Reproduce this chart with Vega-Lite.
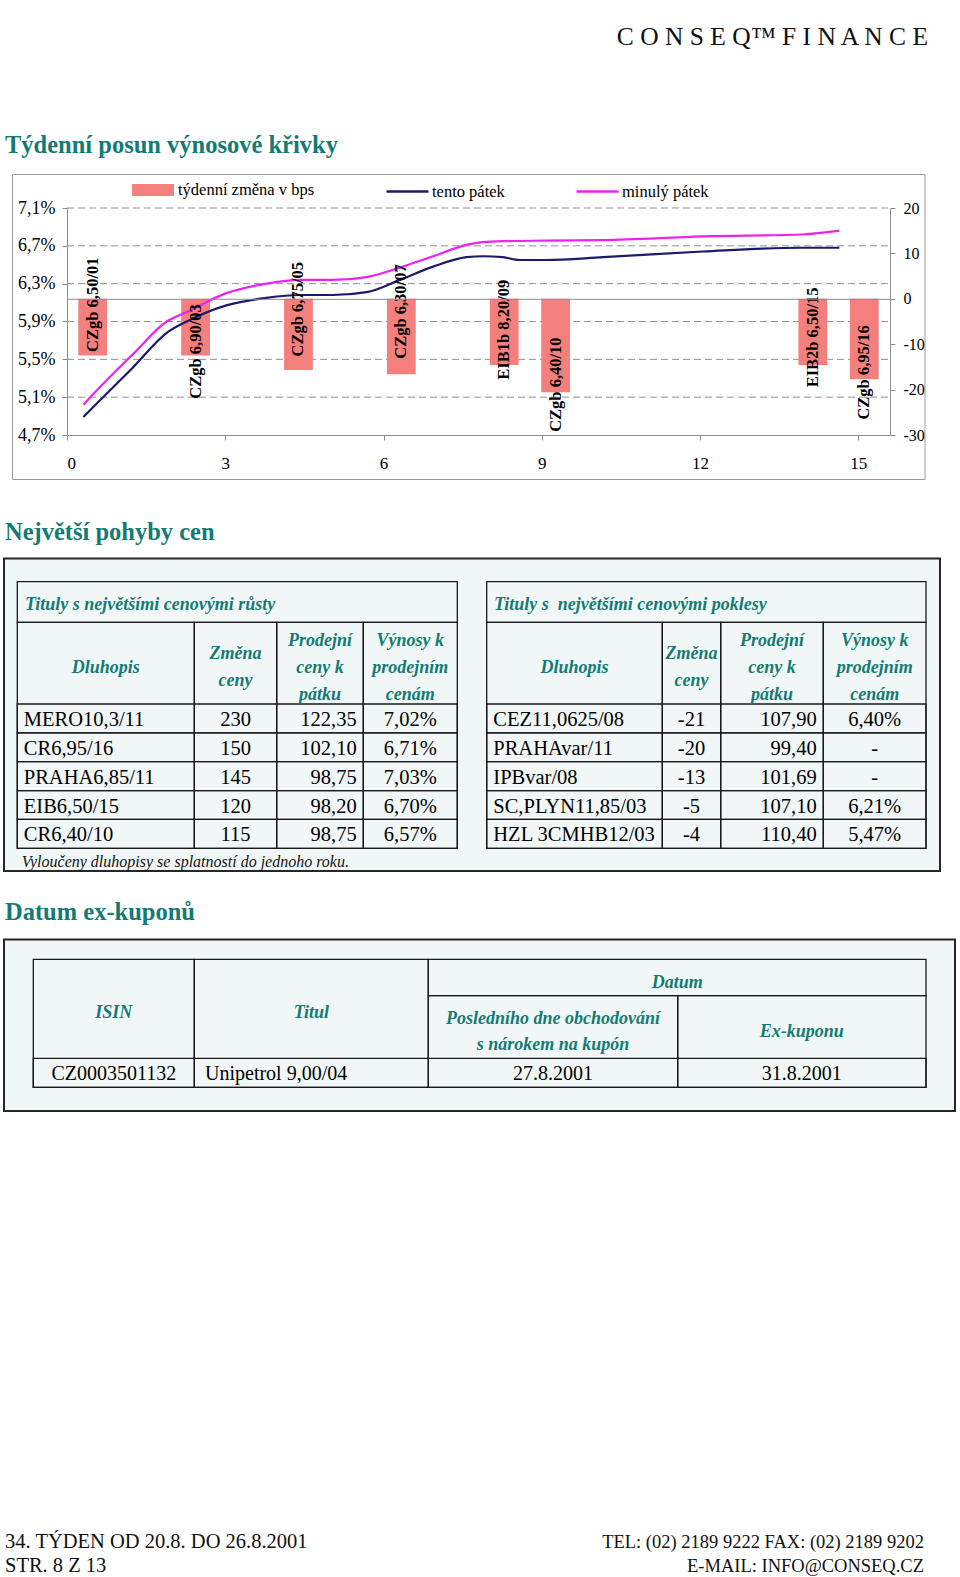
{
"$schema": "https://vega.github.io/schema/vega-lite/v6.json",
"width": 960, "height": 1577, "autosize": "none", "padding": 0, "background": "white",
"config": {
 "view": {"stroke": null},
 "font": "Liberation Serif",
 "locale": {"number": {"decimal": ",", "thousands": " ", "grouping": [3], "currency": ["", ""], "minus": "-"}},
 "axis": {"labelFont": "Liberation Serif", "labelColor": "#000", "domainColor": "#8c8c8c", "tickColor": "#8c8c8c", "zindex": 1},
 "legend": {"labelFont": "Liberation Serif", "labelFontSize": 16.5, "labelColor": "#000"},
 "style": {
  "bunka": {"font": "Liberation Serif", "fontSize": 20.5},
  "hlavicka": {"font": "Liberation Serif", "fontSize": 18, "fontStyle": "italic", "fontWeight": "bold"},
  "nadpis": {"font": "Liberation Serif", "fontSize": 24.5, "fontWeight": "bold"}
 }
},
"datasets": {
 "texty": [
  {"klic": "logo", "text": "C O N S E Q™  F I N A N C E"},
  {"klic": "nadpis1", "text": "Týdenní posun výnosové křivky"},
  {"klic": "nadpis2", "text": "Největší pohyby cen"},
  {"klic": "nadpis3", "text": "Datum ex-kuponů"},
  {"klic": "poznamka", "text": "Vyloučeny dluhopisy se splatností do jednoho roku."}
 ],
 "paticka": [
  {"strana": "vlevo", "radek": 1, "text": "34. TÝDEN OD 20.8. DO 26.8.2001"},
  {"strana": "vlevo", "radek": 2, "text": "STR. 8 Z 13"},
  {"strana": "vpravo", "radek": 1, "text": "TEL: (02) 2189 9222   FAX: (02) 2189 9202"},
  {"strana": "vpravo", "radek": 2, "text": "E-MAIL: INFO@CONSEQ.CZ"}
 ],
 "ramecky": [{"ramecek": "graf"}, {"ramecek": "pohyby"}, {"ramecek": "kupony"}],
 "mrizka": [{"vynos": 5.1}, {"vynos": 5.5}, {"vynos": 5.9}, {"vynos": 6.3}, {"vynos": 6.7}, {"vynos": 7.1}],
 "zmeny": [
  {"splatnost": "01", "titul": "CZgb 6,50/01", "bps": -12.5, "stitek": -1.3},
  {"splatnost": "03", "titul": "CZgb 6,90/03", "bps": -12.5, "stitek": -11.6},
  {"splatnost": "05", "titul": "CZgb 6,75/05", "bps": -15.7, "stitek": -2.3},
  {"splatnost": "07", "titul": "CZgb 6,30/07", "bps": -16.6, "stitek": -2.8},
  {"splatnost": "09", "titul": "EIB1b 8,20/09", "bps": -14.6, "stitek": -6.8},
  {"splatnost": "10", "titul": "CZgb 6,40/10", "bps": -20.6, "stitek": -18.9},
  {"splatnost": "15", "titul": "EIB2b 6,50/15", "bps": -14.6, "stitek": -8.5},
  {"splatnost": "16", "titul": "CZgb 6,95/16", "bps": -17.7, "stitek": -16.2}
 ],
 "krivka": [
  {"serie": "tento pátek", "roky": 0.31, "vynos": 4.89},
  {"serie": "tento pátek", "roky": 0.63, "vynos": 5.07},
  {"serie": "tento pátek", "roky": 1.26, "vynos": 5.42},
  {"serie": "tento pátek", "roky": 1.89, "vynos": 5.78},
  {"serie": "tento pátek", "roky": 2.27, "vynos": 5.9},
  {"serie": "tento pátek", "roky": 3.02, "vynos": 6.07},
  {"serie": "tento pátek", "roky": 3.78, "vynos": 6.15},
  {"serie": "tento pátek", "roky": 4.41, "vynos": 6.18},
  {"serie": "tento pátek", "roky": 5.04, "vynos": 6.18},
  {"serie": "tento pátek", "roky": 5.68, "vynos": 6.21},
  {"serie": "tento pátek", "roky": 6.31, "vynos": 6.34},
  {"serie": "tento pátek", "roky": 6.94, "vynos": 6.48},
  {"serie": "tento pátek", "roky": 7.57, "vynos": 6.58},
  {"serie": "tento pátek", "roky": 7.88, "vynos": 6.59},
  {"serie": "tento pátek", "roky": 8.26, "vynos": 6.58},
  {"serie": "tento pátek", "roky": 8.58, "vynos": 6.55},
  {"serie": "tento pátek", "roky": 9.08, "vynos": 6.55},
  {"serie": "tento pátek", "roky": 10.16, "vynos": 6.58},
  {"serie": "tento pátek", "roky": 12.05, "vynos": 6.64},
  {"serie": "tento pátek", "roky": 13.94, "vynos": 6.68},
  {"serie": "tento pátek", "roky": 14.64, "vynos": 6.68},
  {"serie": "minulý pátek", "roky": 0.31, "vynos": 5.02},
  {"serie": "minulý pátek", "roky": 0.63, "vynos": 5.21},
  {"serie": "minulý pátek", "roky": 1.26, "vynos": 5.56},
  {"serie": "minulý pátek", "roky": 1.89, "vynos": 5.9},
  {"serie": "minulý pátek", "roky": 2.27, "vynos": 6.0},
  {"serie": "minulý pátek", "roky": 3.02, "vynos": 6.2},
  {"serie": "minulý pátek", "roky": 3.78, "vynos": 6.3},
  {"serie": "minulý pátek", "roky": 4.41, "vynos": 6.34},
  {"serie": "minulý pátek", "roky": 5.04, "vynos": 6.34},
  {"serie": "minulý pátek", "roky": 5.68, "vynos": 6.37},
  {"serie": "minulý pátek", "roky": 6.31, "vynos": 6.47},
  {"serie": "minulý pátek", "roky": 6.94, "vynos": 6.59},
  {"serie": "minulý pátek", "roky": 7.57, "vynos": 6.71},
  {"serie": "minulý pátek", "roky": 7.88, "vynos": 6.74},
  {"serie": "minulý pátek", "roky": 8.26, "vynos": 6.75},
  {"serie": "minulý pátek", "roky": 9.08, "vynos": 6.755},
  {"serie": "minulý pátek", "roky": 10.16, "vynos": 6.76},
  {"serie": "minulý pátek", "roky": 12.05, "vynos": 6.8},
  {"serie": "minulý pátek", "roky": 13.94, "vynos": 6.82},
  {"serie": "minulý pátek", "roky": 14.64, "vynos": 6.86}
 ],
 "tabulky": [
  {"tabulka": "rusty", "titulek": "Tituly s největšími cenovými růsty"},
  {"tabulka": "poklesy", "titulek": "Tituly s\u00a0 největšími cenovými poklesy"}
 ],
 "hlavicky": [
  {"sloupec": "dluhopis", "nadpis": "Dluhopis"},
  {"sloupec": "zmena", "nadpis": "Změna\nceny"},
  {"sloupec": "cena", "nadpis": "Prodejní\nceny k\npátku"},
  {"sloupec": "vynos", "nadpis": "Výnosy k\nprodejním\ncenám"}
 ],
 "rusty": [
  {"poradi": 1, "dluhopis": "MERO10,3/11", "zmena": 230, "cena": 122.35, "vynos": 0.0702},
  {"poradi": 2, "dluhopis": "CR6,95/16", "zmena": 150, "cena": 102.10, "vynos": 0.0671},
  {"poradi": 3, "dluhopis": "PRAHA6,85/11", "zmena": 145, "cena": 98.75, "vynos": 0.0703},
  {"poradi": 4, "dluhopis": "EIB6,50/15", "zmena": 120, "cena": 98.20, "vynos": 0.0670},
  {"poradi": 5, "dluhopis": "CR6,40/10", "zmena": 115, "cena": 98.75, "vynos": 0.0657}
 ],
 "poklesy": [
  {"poradi": 1, "dluhopis": "CEZ11,0625/08", "zmena": -21, "cena": 107.90, "vynos": 0.0640},
  {"poradi": 2, "dluhopis": "PRAHAvar/11", "zmena": -20, "cena": 99.40, "vynos": null},
  {"poradi": 3, "dluhopis": "IPBvar/08", "zmena": -13, "cena": 101.69, "vynos": null},
  {"poradi": 4, "dluhopis": "SC,PLYN11,85/03", "zmena": -5, "cena": 107.10, "vynos": 0.0621},
  {"poradi": 5, "dluhopis": "HZL 3CMHB12/03", "zmena": -4, "cena": 110.40, "vynos": 0.0547}
 ],
 "kupony_hlavicka": [
  {"sloupec": "isin", "nadpis": "ISIN"},
  {"sloupec": "titul", "nadpis": "Titul"},
  {"sloupec": "datum", "nadpis": "Datum"},
  {"sloupec": "posledni", "nadpis": "Posledního dne obchodování\ns nárokem na kupón"},
  {"sloupec": "exkupon", "nadpis": "Ex-kuponu"}
 ],
 "kupony": [
  {"isin": "CZ0003501132", "titul": "Unipetrol 9,00/04", "posledni": "27.8.2001", "exkupon": "31.8.2001"}
 ]
},
"resolve": {"scale": {"x": "independent", "y": "independent", "fill": "independent", "stroke": "independent"}},
"layer": [
 {"data": {"name": "ramecky"}, "transform": [{"filter": "datum.ramecek === 'graf'"}],
  "mark": {"type": "rect", "fill": "#ffffff", "stroke": "#9a9a9a", "strokeWidth": 1},
  "encoding": {"x": {"field": "ramecek", "type": "nominal", "scale": {"type": "band", "range": [12.5, 925], "paddingInner": 0, "paddingOuter": 0}, "axis": null},
   "y": {"field": "ramecek", "type": "nominal", "scale": {"type": "band", "range": [174.5, 479.5], "paddingInner": 0, "paddingOuter": 0}, "axis": null}}},
 {"data": {"name": "ramecky"}, "transform": [{"filter": "datum.ramecek === 'pohyby'"}],
  "mark": {"type": "rect", "fill": "#f1f7f7", "stroke": "#262626", "strokeWidth": 2},
  "encoding": {"x": {"field": "ramecek", "type": "nominal", "scale": {"type": "band", "range": [4, 940], "paddingInner": 0, "paddingOuter": 0}, "axis": null},
   "y": {"field": "ramecek", "type": "nominal", "scale": {"type": "band", "range": [558.5, 871], "paddingInner": 0, "paddingOuter": 0}, "axis": null}}},
 {"data": {"name": "ramecky"}, "transform": [{"filter": "datum.ramecek === 'kupony'"}],
  "mark": {"type": "rect", "fill": "#f1f7f7", "stroke": "#262626", "strokeWidth": 2},
  "encoding": {"x": {"field": "ramecek", "type": "nominal", "scale": {"type": "band", "range": [4, 955], "paddingInner": 0, "paddingOuter": 0}, "axis": null},
   "y": {"field": "ramecek", "type": "nominal", "scale": {"type": "band", "range": [939.5, 1111], "paddingInner": 0, "paddingOuter": 0}, "axis": null}}},

 {"data": {"name": "texty"}, "transform": [{"filter": "datum.klic === 'logo'"}],
  "mark": {"type": "text", "font": "Liberation Serif", "fontSize": 25.5, "fill": "#111111", "align": "right", "baseline": "middle"},
  "encoding": {"x": {"field": "klic", "type": "nominal", "bandPosition": 1, "scale": {"type": "band", "range": [600, 928]}, "axis": null},
   "y": {"field": "klic", "type": "nominal", "scale": {"type": "band", "range": [30, 44]}, "axis": null},
   "text": {"field": "text"}}},
 {"data": {"name": "texty"}, "transform": [{"filter": "datum.klic === 'nadpis1'"}],
  "mark": {"type": "text", "style": "nadpis", "fill": "#137b73", "align": "left", "baseline": "alphabetic"},
  "encoding": {"x": {"field": "klic", "type": "nominal", "bandPosition": 0, "scale": {"type": "band", "range": [5, 400]}, "axis": null},
   "y": {"field": "klic", "type": "nominal", "scale": {"type": "band", "range": [148, 158]}, "axis": null},
   "text": {"field": "text"}}},
 {"data": {"name": "texty"}, "transform": [{"filter": "datum.klic === 'nadpis2'"}],
  "mark": {"type": "text", "style": "nadpis", "fill": "#137b73", "align": "left", "baseline": "alphabetic"},
  "encoding": {"x": {"field": "klic", "type": "nominal", "bandPosition": 0, "scale": {"type": "band", "range": [5, 400]}, "axis": null},
   "y": {"field": "klic", "type": "nominal", "scale": {"type": "band", "range": [535, 545]}, "axis": null},
   "text": {"field": "text"}}},
 {"data": {"name": "texty"}, "transform": [{"filter": "datum.klic === 'nadpis3'"}],
  "mark": {"type": "text", "style": "nadpis", "fill": "#137b73", "align": "left", "baseline": "alphabetic"},
  "encoding": {"x": {"field": "klic", "type": "nominal", "bandPosition": 0, "scale": {"type": "band", "range": [5, 400]}, "axis": null},
   "y": {"field": "klic", "type": "nominal", "scale": {"type": "band", "range": [915, 925]}, "axis": null},
   "text": {"field": "text"}}},
 {"data": {"name": "texty"}, "transform": [{"filter": "datum.klic === 'poznamka'"}],
  "mark": {"type": "text", "font": "Liberation Serif", "fontSize": 16, "fontStyle": "italic", "fill": "#111111", "align": "left", "baseline": "middle"},
  "encoding": {"x": {"field": "klic", "type": "nominal", "bandPosition": 0, "scale": {"type": "band", "range": [21.7, 400]}, "axis": null},
   "y": {"field": "klic", "type": "nominal", "scale": {"type": "band", "range": [857, 867]}, "axis": null},
   "text": {"field": "text"}}},
 {"data": {"name": "paticka"}, "transform": [{"filter": "datum.strana === 'vlevo'"}],
  "mark": {"type": "text", "font": "Liberation Serif", "fontSize": 20.5, "fill": "#111111", "align": "left", "baseline": "middle"},
  "encoding": {"x": {"field": "strana", "type": "nominal", "bandPosition": 0, "scale": {"type": "band", "range": [5, 400]}, "axis": null},
   "y": {"field": "radek", "type": "ordinal", "scale": {"type": "band", "range": [1530, 1578], "paddingInner": 0, "paddingOuter": 0}, "axis": null},
   "text": {"field": "text"}}},
 {"data": {"name": "paticka"}, "transform": [{"filter": "datum.strana === 'vpravo'"}],
  "mark": {"type": "text", "font": "Liberation Serif", "fontSize": 18.5, "fill": "#111111", "align": "right", "baseline": "middle"},
  "encoding": {"x": {"field": "strana", "type": "nominal", "bandPosition": 1, "scale": {"type": "band", "range": [500, 924]}, "axis": null},
   "y": {"field": "radek", "type": "ordinal", "scale": {"type": "band", "range": [1530, 1578], "paddingInner": 0, "paddingOuter": 0}, "axis": null},
   "text": {"field": "text"}}},

 {"data": {"name": "mrizka"},
  "mark": {"type": "rule", "stroke": "#8f8f8f", "strokeDash": [7, 4], "strokeWidth": 1},
  "encoding": {"y": {"field": "vynos", "type": "quantitative", "scale": {"domain": [4.7, 7.1], "range": [435, 208], "nice": false, "zero": false}, "axis": null},
   "x": {"datum": 0, "type": "quantitative", "scale": {"domain": [0, 15.6], "range": [67, 890], "nice": false, "zero": false}, "axis": null},
   "x2": {"datum": 15.6}}},
 {"data": {"name": "zmeny"},
  "mark": {"type": "bar"},
  "encoding": {
   "x": {"field": "splatnost", "type": "ordinal", "scale": {"type": "band", "domain": ["01","02","03","04","05","06","07","08","09","10","11","12","13","14","15","16"], "range": [67, 890], "paddingInner": 0.44, "paddingOuter": 0.22},
    "axis": {"orient": "top", "offset": -298.8, "labels": false, "ticks": false, "domain": true, "grid": false, "title": null, "zindex": 1}},
   "y": {"field": "bps", "type": "quantitative", "scale": {"domain": [-30, 20], "range": [435, 208], "nice": false, "zero": false},
    "axis": {"orient": "right", "offset": -70, "values": [-30, -20, -10, 0, 10, 20], "format": "d", "grid": false, "title": null, "labelFontSize": 16, "labelPadding": 8, "tickSize": 5, "zindex": 1}},
   "fill": {"datum": "týdenní změna v bps", "type": "nominal", "scale": {"range": ["#f4807e"]},
    "legend": {"orient": "none", "legendX": 132, "legendY": 169, "title": null, "padding": 0, "symbolType": "M-1,-0.28H1V0.28H-1Z", "symbolSize": 1764, "symbolStrokeWidth": 0, "symbolOpacity": 1, "labelOffset": 4}}}},
 {"data": {"name": "krivka"}, "transform": [{"filter": "datum.serie === 'tento pátek'"}],
  "mark": {"type": "line", "interpolate": "monotone", "strokeWidth": 2.2},
  "encoding": {
   "x": {"field": "roky", "type": "quantitative", "scale": {"domain": [0, 15.6], "range": [67, 890], "nice": false, "zero": false},
    "axis": {"orient": "bottom", "offset": -1142, "values": [0, 3, 6, 9, 12, 15], "format": "d", "grid": false, "title": null, "labelFontSize": 17, "labelPadding": 15, "tickSize": 5, "zindex": 1}},
   "y": {"field": "vynos", "type": "quantitative", "scale": {"domain": [4.7, 7.1], "range": [435, 208], "nice": false, "zero": false},
    "axis": {"orient": "left", "offset": -67, "values": [4.7, 5.1, 5.5, 5.9, 6.3, 6.7, 7.1], "format": ".1f", "labelExpr": "datum.label + '%'", "grid": false, "title": null, "labelFontSize": 18, "labelPadding": 7, "tickSize": 5, "zindex": 1}},
   "stroke": {"field": "serie", "type": "nominal", "scale": {"range": ["#1b1b6a"]},
    "legend": {"orient": "none", "legendX": 385, "legendY": 169, "title": null, "padding": 0, "symbolType": "stroke", "symbolSize": 1764, "symbolStrokeWidth": 2.5, "labelOffset": 2}}}},
 {"data": {"name": "krivka"}, "transform": [{"filter": "datum.serie === 'minulý pátek'"}],
  "mark": {"type": "line", "interpolate": "monotone", "strokeWidth": 2.2},
  "encoding": {
   "x": {"field": "roky", "type": "quantitative", "scale": {"domain": [0, 15.6], "range": [67, 890], "nice": false, "zero": false}, "axis": null},
   "y": {"field": "vynos", "type": "quantitative", "scale": {"domain": [4.7, 7.1], "range": [435, 208], "nice": false, "zero": false}, "axis": null},
   "stroke": {"field": "serie", "type": "nominal", "scale": {"range": ["#ee22ee"]},
    "legend": {"orient": "none", "legendX": 575, "legendY": 169, "title": null, "padding": 0, "symbolType": "stroke", "symbolSize": 1764, "symbolStrokeWidth": 2.5, "labelOffset": 2}}}},
 {"data": {"name": "zmeny"},
  "mark": {"type": "text", "angle": 270, "font": "Liberation Serif", "fontSize": 16.5, "fontWeight": "bold", "fill": "#000000", "align": "center", "baseline": "middle"},
  "encoding": {
   "x": {"field": "splatnost", "type": "ordinal", "scale": {"type": "band", "domain": ["01","02","03","04","05","06","07","08","09","10","11","12","13","14","15","16"], "range": [67, 890], "paddingInner": 0.44, "paddingOuter": 0.22}, "axis": null},
   "y": {"field": "stitek", "type": "quantitative", "scale": {"domain": [-30, 20], "range": [435, 208], "nice": false, "zero": false}, "axis": null},
   "text": {"field": "titul", "type": "nominal"}}},

 {"data": {"name": "tabulky"}, "transform": [{"filter": "datum.tabulka === 'rusty'"}],
  "mark": {"type": "rect", "fill": "transparent", "stroke": "#1a1a1a", "strokeWidth": 1.3},
  "encoding": {"x": {"field": "tabulka", "type": "nominal", "scale": {"type": "band", "range": [17.3, 457.3], "paddingInner": 0, "paddingOuter": 0}, "axis": null},
   "y": {"field": "tabulka", "type": "nominal", "scale": {"type": "band", "range": [581.7, 622.3], "paddingInner": 0, "paddingOuter": 0}, "axis": null}}},
 {"data": {"name": "tabulky"}, "transform": [{"filter": "datum.tabulka === 'rusty'"}],
  "mark": {"type": "text", "style": "hlavicka", "fill": "#137b73", "align": "left", "dx": 7.7},
  "encoding": {"x": {"field": "tabulka", "type": "nominal", "bandPosition": 0, "scale": {"type": "band", "range": [17.3, 457.3]}, "axis": null},
   "y": {"field": "tabulka", "type": "nominal", "scale": {"type": "band", "range": [595, 615]}, "axis": null},
   "text": {"field": "titulek"}}},
 {"data": {"name": "rusty"},
  "mark": {"type": "rect", "fill": "transparent", "stroke": "#1a1a1a", "strokeWidth": 1.3},
  "encoding": {"x": {"datum": "rusty", "type": "nominal", "scale": {"type": "band", "range": [17.3, 457.3], "paddingInner": 0, "paddingOuter": 0}, "axis": null},
   "y": {"field": "poradi", "type": "ordinal", "scale": {"type": "band", "range": [704, 848.3], "paddingInner": 0, "paddingOuter": 0}, "axis": null}}},
 {"data": {"name": "hlavicky"}, "transform": [{"filter": "datum.sloupec === 'dluhopis'"}],
  "mark": {"type": "rect", "fill": "transparent", "stroke": "#1a1a1a", "strokeWidth": 1.3},
  "encoding": {"x": {"field": "sloupec", "type": "nominal", "scale": {"type": "band", "range": [17.3, 194.3], "paddingInner": 0, "paddingOuter": 0}, "axis": null},
   "y": {"field": "sloupec", "type": "nominal", "scale": {"type": "band", "range": [622.3, 848.3], "paddingInner": 0, "paddingOuter": 0}, "axis": null}}},
 {"data": {"name": "hlavicky"}, "transform": [{"filter": "datum.sloupec === 'zmena'"}],
  "mark": {"type": "rect", "fill": "transparent", "stroke": "#1a1a1a", "strokeWidth": 1.3},
  "encoding": {"x": {"field": "sloupec", "type": "nominal", "scale": {"type": "band", "range": [194.3, 276.7], "paddingInner": 0, "paddingOuter": 0}, "axis": null},
   "y": {"field": "sloupec", "type": "nominal", "scale": {"type": "band", "range": [622.3, 848.3], "paddingInner": 0, "paddingOuter": 0}, "axis": null}}},
 {"data": {"name": "hlavicky"}, "transform": [{"filter": "datum.sloupec === 'cena'"}],
  "mark": {"type": "rect", "fill": "transparent", "stroke": "#1a1a1a", "strokeWidth": 1.3},
  "encoding": {"x": {"field": "sloupec", "type": "nominal", "scale": {"type": "band", "range": [276.7, 363.3], "paddingInner": 0, "paddingOuter": 0}, "axis": null},
   "y": {"field": "sloupec", "type": "nominal", "scale": {"type": "band", "range": [622.3, 848.3], "paddingInner": 0, "paddingOuter": 0}, "axis": null}}},
 {"data": {"name": "hlavicky"}, "transform": [{"filter": "datum.sloupec === 'vynos'"}],
  "mark": {"type": "rect", "fill": "transparent", "stroke": "#1a1a1a", "strokeWidth": 1.3},
  "encoding": {"x": {"field": "sloupec", "type": "nominal", "scale": {"type": "band", "range": [363.3, 457.3], "paddingInner": 0, "paddingOuter": 0}, "axis": null},
   "y": {"field": "sloupec", "type": "nominal", "scale": {"type": "band", "range": [622.3, 848.3], "paddingInner": 0, "paddingOuter": 0}, "axis": null}}},
 {"data": {"name": "hlavicky"}, "transform": [{"filter": "datum.sloupec === 'dluhopis'"}],
  "mark": {"type": "text", "style": "hlavicka", "fill": "#137b73", "lineBreak": "\n", "lineHeight": 27},
  "encoding": {"x": {"field": "sloupec", "type": "nominal", "scale": {"type": "band", "range": [17.3, 194.3]}, "axis": null},
   "y": {"field": "sloupec", "type": "nominal", "scale": {"type": "band", "range": [657.5, 677.5]}, "axis": null},
   "text": {"field": "nadpis"}}},
 {"data": {"name": "hlavicky"}, "transform": [{"filter": "datum.sloupec === 'zmena'"}],
  "mark": {"type": "text", "style": "hlavicka", "fill": "#137b73", "lineBreak": "\n", "lineHeight": 27},
  "encoding": {"x": {"field": "sloupec", "type": "nominal", "scale": {"type": "band", "range": [194.3, 276.7]}, "axis": null},
   "y": {"field": "sloupec", "type": "nominal", "scale": {"type": "band", "range": [643.5, 663.5]}, "axis": null},
   "text": {"field": "nadpis"}}},
 {"data": {"name": "hlavicky"}, "transform": [{"filter": "datum.sloupec === 'cena'"}],
  "mark": {"type": "text", "style": "hlavicka", "fill": "#137b73", "lineBreak": "\n", "lineHeight": 27},
  "encoding": {"x": {"field": "sloupec", "type": "nominal", "scale": {"type": "band", "range": [276.7, 363.3]}, "axis": null},
   "y": {"field": "sloupec", "type": "nominal", "scale": {"type": "band", "range": [630.5, 650.5]}, "axis": null},
   "text": {"field": "nadpis"}}},
 {"data": {"name": "hlavicky"}, "transform": [{"filter": "datum.sloupec === 'vynos'"}],
  "mark": {"type": "text", "style": "hlavicka", "fill": "#137b73", "lineBreak": "\n", "lineHeight": 27},
  "encoding": {"x": {"field": "sloupec", "type": "nominal", "scale": {"type": "band", "range": [363.3, 457.3]}, "axis": null},
   "y": {"field": "sloupec", "type": "nominal", "scale": {"type": "band", "range": [630.5, 650.5]}, "axis": null},
   "text": {"field": "nadpis"}}},
 {"data": {"name": "rusty"},
  "mark": {"type": "text", "style": "bunka", "fill": "#000000", "align": "left", "dx": 6.5},
  "encoding": {"x": {"datum": "dluhopis", "type": "nominal", "bandPosition": 0, "scale": {"type": "band", "range": [17.3, 194.3], "paddingInner": 0, "paddingOuter": 0}, "axis": null},
   "y": {"field": "poradi", "type": "ordinal", "scale": {"type": "band", "range": [705.5, 849.8], "paddingInner": 0, "paddingOuter": 0}, "axis": null},
   "text": {"field": "dluhopis", "type": "nominal"}}},
 {"data": {"name": "rusty"},
  "mark": {"type": "text", "style": "bunka", "fill": "#000000", "align": "center"},
  "encoding": {"x": {"datum": "zmena", "type": "nominal", "scale": {"type": "band", "range": [194.3, 276.7], "paddingInner": 0, "paddingOuter": 0}, "axis": null},
   "y": {"field": "poradi", "type": "ordinal", "scale": {"type": "band", "range": [705.5, 849.8], "paddingInner": 0, "paddingOuter": 0}, "axis": null},
   "text": {"field": "zmena", "type": "quantitative", "format": "d"}}},
 {"data": {"name": "rusty"},
  "mark": {"type": "text", "style": "bunka", "fill": "#000000", "align": "right", "dx": -6.6},
  "encoding": {"x": {"datum": "cena", "type": "nominal", "bandPosition": 1, "scale": {"type": "band", "range": [276.7, 363.3], "paddingInner": 0, "paddingOuter": 0}, "axis": null},
   "y": {"field": "poradi", "type": "ordinal", "scale": {"type": "band", "range": [705.5, 849.8], "paddingInner": 0, "paddingOuter": 0}, "axis": null},
   "text": {"field": "cena", "type": "quantitative", "format": ".2f"}}},
 {"data": {"name": "rusty"},
  "mark": {"type": "text", "style": "bunka", "fill": "#000000", "align": "center"},
  "encoding": {"x": {"datum": "vynos", "type": "nominal", "scale": {"type": "band", "range": [363.3, 457.3], "paddingInner": 0, "paddingOuter": 0}, "axis": null},
   "y": {"field": "poradi", "type": "ordinal", "scale": {"type": "band", "range": [705.5, 849.8], "paddingInner": 0, "paddingOuter": 0}, "axis": null},
   "text": {"field": "vynos", "type": "quantitative", "format": ".2%"}}},

 {"data": {"name": "tabulky"}, "transform": [{"filter": "datum.tabulka === 'poklesy'"}],
  "mark": {"type": "rect", "fill": "transparent", "stroke": "#1a1a1a", "strokeWidth": 1.3},
  "encoding": {"x": {"field": "tabulka", "type": "nominal", "scale": {"type": "band", "range": [486.7, 926], "paddingInner": 0, "paddingOuter": 0}, "axis": null},
   "y": {"field": "tabulka", "type": "nominal", "scale": {"type": "band", "range": [581.7, 622.3], "paddingInner": 0, "paddingOuter": 0}, "axis": null}}},
 {"data": {"name": "tabulky"}, "transform": [{"filter": "datum.tabulka === 'poklesy'"}],
  "mark": {"type": "text", "style": "hlavicka", "fill": "#137b73", "align": "left", "dx": 7.3},
  "encoding": {"x": {"field": "tabulka", "type": "nominal", "bandPosition": 0, "scale": {"type": "band", "range": [486.7, 926]}, "axis": null},
   "y": {"field": "tabulka", "type": "nominal", "scale": {"type": "band", "range": [595, 615]}, "axis": null},
   "text": {"field": "titulek"}}},
 {"data": {"name": "poklesy"},
  "mark": {"type": "rect", "fill": "transparent", "stroke": "#1a1a1a", "strokeWidth": 1.3},
  "encoding": {"x": {"datum": "poklesy", "type": "nominal", "scale": {"type": "band", "range": [486.7, 926], "paddingInner": 0, "paddingOuter": 0}, "axis": null},
   "y": {"field": "poradi", "type": "ordinal", "scale": {"type": "band", "range": [704, 848.3], "paddingInner": 0, "paddingOuter": 0}, "axis": null}}},
 {"data": {"name": "hlavicky"}, "transform": [{"filter": "datum.sloupec === 'dluhopis'"}],
  "mark": {"type": "rect", "fill": "transparent", "stroke": "#1a1a1a", "strokeWidth": 1.3},
  "encoding": {"x": {"field": "sloupec", "type": "nominal", "scale": {"type": "band", "range": [486.7, 662.3], "paddingInner": 0, "paddingOuter": 0}, "axis": null},
   "y": {"field": "sloupec", "type": "nominal", "scale": {"type": "band", "range": [622.3, 848.3], "paddingInner": 0, "paddingOuter": 0}, "axis": null}}},
 {"data": {"name": "hlavicky"}, "transform": [{"filter": "datum.sloupec === 'zmena'"}],
  "mark": {"type": "rect", "fill": "transparent", "stroke": "#1a1a1a", "strokeWidth": 1.3},
  "encoding": {"x": {"field": "sloupec", "type": "nominal", "scale": {"type": "band", "range": [662.3, 720.7], "paddingInner": 0, "paddingOuter": 0}, "axis": null},
   "y": {"field": "sloupec", "type": "nominal", "scale": {"type": "band", "range": [622.3, 848.3], "paddingInner": 0, "paddingOuter": 0}, "axis": null}}},
 {"data": {"name": "hlavicky"}, "transform": [{"filter": "datum.sloupec === 'cena'"}],
  "mark": {"type": "rect", "fill": "transparent", "stroke": "#1a1a1a", "strokeWidth": 1.3},
  "encoding": {"x": {"field": "sloupec", "type": "nominal", "scale": {"type": "band", "range": [720.7, 823.3], "paddingInner": 0, "paddingOuter": 0}, "axis": null},
   "y": {"field": "sloupec", "type": "nominal", "scale": {"type": "band", "range": [622.3, 848.3], "paddingInner": 0, "paddingOuter": 0}, "axis": null}}},
 {"data": {"name": "hlavicky"}, "transform": [{"filter": "datum.sloupec === 'vynos'"}],
  "mark": {"type": "rect", "fill": "transparent", "stroke": "#1a1a1a", "strokeWidth": 1.3},
  "encoding": {"x": {"field": "sloupec", "type": "nominal", "scale": {"type": "band", "range": [823.3, 926], "paddingInner": 0, "paddingOuter": 0}, "axis": null},
   "y": {"field": "sloupec", "type": "nominal", "scale": {"type": "band", "range": [622.3, 848.3], "paddingInner": 0, "paddingOuter": 0}, "axis": null}}},
 {"data": {"name": "hlavicky"}, "transform": [{"filter": "datum.sloupec === 'dluhopis'"}],
  "mark": {"type": "text", "style": "hlavicka", "fill": "#137b73", "lineBreak": "\n", "lineHeight": 27},
  "encoding": {"x": {"field": "sloupec", "type": "nominal", "scale": {"type": "band", "range": [486.7, 662.3]}, "axis": null},
   "y": {"field": "sloupec", "type": "nominal", "scale": {"type": "band", "range": [657.5, 677.5]}, "axis": null},
   "text": {"field": "nadpis"}}},
 {"data": {"name": "hlavicky"}, "transform": [{"filter": "datum.sloupec === 'zmena'"}],
  "mark": {"type": "text", "style": "hlavicka", "fill": "#137b73", "lineBreak": "\n", "lineHeight": 27},
  "encoding": {"x": {"field": "sloupec", "type": "nominal", "scale": {"type": "band", "range": [662.3, 720.7]}, "axis": null},
   "y": {"field": "sloupec", "type": "nominal", "scale": {"type": "band", "range": [643.5, 663.5]}, "axis": null},
   "text": {"field": "nadpis"}}},
 {"data": {"name": "hlavicky"}, "transform": [{"filter": "datum.sloupec === 'cena'"}],
  "mark": {"type": "text", "style": "hlavicka", "fill": "#137b73", "lineBreak": "\n", "lineHeight": 27},
  "encoding": {"x": {"field": "sloupec", "type": "nominal", "scale": {"type": "band", "range": [720.7, 823.3]}, "axis": null},
   "y": {"field": "sloupec", "type": "nominal", "scale": {"type": "band", "range": [630.5, 650.5]}, "axis": null},
   "text": {"field": "nadpis"}}},
 {"data": {"name": "hlavicky"}, "transform": [{"filter": "datum.sloupec === 'vynos'"}],
  "mark": {"type": "text", "style": "hlavicka", "fill": "#137b73", "lineBreak": "\n", "lineHeight": 27},
  "encoding": {"x": {"field": "sloupec", "type": "nominal", "scale": {"type": "band", "range": [823.3, 926]}, "axis": null},
   "y": {"field": "sloupec", "type": "nominal", "scale": {"type": "band", "range": [630.5, 650.5]}, "axis": null},
   "text": {"field": "nadpis"}}},
 {"data": {"name": "poklesy"},
  "mark": {"type": "text", "style": "bunka", "fill": "#000000", "align": "left", "dx": 6.6},
  "encoding": {"x": {"datum": "dluhopis", "type": "nominal", "bandPosition": 0, "scale": {"type": "band", "range": [486.7, 662.3], "paddingInner": 0, "paddingOuter": 0}, "axis": null},
   "y": {"field": "poradi", "type": "ordinal", "scale": {"type": "band", "range": [705.5, 849.8], "paddingInner": 0, "paddingOuter": 0}, "axis": null},
   "text": {"field": "dluhopis", "type": "nominal"}}},
 {"data": {"name": "poklesy"},
  "mark": {"type": "text", "style": "bunka", "fill": "#000000", "align": "center"},
  "encoding": {"x": {"datum": "zmena", "type": "nominal", "scale": {"type": "band", "range": [662.3, 720.7], "paddingInner": 0, "paddingOuter": 0}, "axis": null},
   "y": {"field": "poradi", "type": "ordinal", "scale": {"type": "band", "range": [705.5, 849.8], "paddingInner": 0, "paddingOuter": 0}, "axis": null},
   "text": {"field": "zmena", "type": "quantitative", "format": "d"}}},
 {"data": {"name": "poklesy"},
  "mark": {"type": "text", "style": "bunka", "fill": "#000000", "align": "right", "dx": -6.6},
  "encoding": {"x": {"datum": "cena", "type": "nominal", "bandPosition": 1, "scale": {"type": "band", "range": [720.7, 823.3], "paddingInner": 0, "paddingOuter": 0}, "axis": null},
   "y": {"field": "poradi", "type": "ordinal", "scale": {"type": "band", "range": [705.5, 849.8], "paddingInner": 0, "paddingOuter": 0}, "axis": null},
   "text": {"field": "cena", "type": "quantitative", "format": ".2f"}}},
 {"data": {"name": "poklesy"},
  "mark": {"type": "text", "style": "bunka", "fill": "#000000", "align": "center"},
  "encoding": {"x": {"datum": "vynos", "type": "nominal", "scale": {"type": "band", "range": [823.3, 926], "paddingInner": 0, "paddingOuter": 0}, "axis": null},
   "y": {"field": "poradi", "type": "ordinal", "scale": {"type": "band", "range": [705.5, 849.8], "paddingInner": 0, "paddingOuter": 0}, "axis": null},
   "text": {"condition": {"test": "datum.vynos === null", "value": "-"}, "field": "vynos", "type": "quantitative", "format": ".2%"}}},

 {"data": {"name": "kupony_hlavicka"}, "transform": [{"filter": "datum.sloupec === 'isin'"}],
  "mark": {"type": "rect", "fill": "transparent", "stroke": "#1a1a1a", "strokeWidth": 1.3},
  "encoding": {"x": {"field": "sloupec", "type": "nominal", "scale": {"type": "band", "range": [33.3, 194.3], "paddingInner": 0, "paddingOuter": 0}, "axis": null},
   "y": {"field": "sloupec", "type": "nominal", "scale": {"type": "band", "range": [959.3, 1087.3], "paddingInner": 0, "paddingOuter": 0}, "axis": null}}},
 {"data": {"name": "kupony_hlavicka"}, "transform": [{"filter": "datum.sloupec === 'titul'"}],
  "mark": {"type": "rect", "fill": "transparent", "stroke": "#1a1a1a", "strokeWidth": 1.3},
  "encoding": {"x": {"field": "sloupec", "type": "nominal", "scale": {"type": "band", "range": [194.3, 428.3], "paddingInner": 0, "paddingOuter": 0}, "axis": null},
   "y": {"field": "sloupec", "type": "nominal", "scale": {"type": "band", "range": [959.3, 1087.3], "paddingInner": 0, "paddingOuter": 0}, "axis": null}}},
 {"data": {"name": "kupony_hlavicka"}, "transform": [{"filter": "datum.sloupec === 'datum'"}],
  "mark": {"type": "rect", "fill": "transparent", "stroke": "#1a1a1a", "strokeWidth": 1.3},
  "encoding": {"x": {"field": "sloupec", "type": "nominal", "scale": {"type": "band", "range": [428.3, 926], "paddingInner": 0, "paddingOuter": 0}, "axis": null},
   "y": {"field": "sloupec", "type": "nominal", "scale": {"type": "band", "range": [959.3, 995.7], "paddingInner": 0, "paddingOuter": 0}, "axis": null}}},
 {"data": {"name": "kupony_hlavicka"}, "transform": [{"filter": "datum.sloupec === 'posledni'"}],
  "mark": {"type": "rect", "fill": "transparent", "stroke": "#1a1a1a", "strokeWidth": 1.3},
  "encoding": {"x": {"field": "sloupec", "type": "nominal", "scale": {"type": "band", "range": [428.3, 677.7], "paddingInner": 0, "paddingOuter": 0}, "axis": null},
   "y": {"field": "sloupec", "type": "nominal", "scale": {"type": "band", "range": [995.7, 1087.3], "paddingInner": 0, "paddingOuter": 0}, "axis": null}}},
 {"data": {"name": "kupony_hlavicka"}, "transform": [{"filter": "datum.sloupec === 'exkupon'"}],
  "mark": {"type": "rect", "fill": "transparent", "stroke": "#1a1a1a", "strokeWidth": 1.3},
  "encoding": {"x": {"field": "sloupec", "type": "nominal", "scale": {"type": "band", "range": [677.7, 926], "paddingInner": 0, "paddingOuter": 0}, "axis": null},
   "y": {"field": "sloupec", "type": "nominal", "scale": {"type": "band", "range": [995.7, 1087.3], "paddingInner": 0, "paddingOuter": 0}, "axis": null}}},
 {"data": {"name": "kupony"},
  "mark": {"type": "rect", "fill": "transparent", "stroke": "#1a1a1a", "strokeWidth": 1.3},
  "encoding": {"x": {"datum": "kupony", "type": "nominal", "scale": {"type": "band", "range": [33.3, 926], "paddingInner": 0, "paddingOuter": 0}, "axis": null},
   "y": {"field": "isin", "type": "nominal", "scale": {"type": "band", "range": [1058.3, 1087.3], "paddingInner": 0, "paddingOuter": 0}, "axis": null}}},
 {"data": {"name": "kupony_hlavicka"}, "transform": [{"filter": "datum.sloupec === 'isin'"}],
  "mark": {"type": "text", "style": "hlavicka", "fill": "#137b73"},
  "encoding": {"x": {"field": "sloupec", "type": "nominal", "scale": {"type": "band", "range": [33.3, 194.3]}, "axis": null},
   "y": {"field": "sloupec", "type": "nominal", "scale": {"type": "band", "range": [1003, 1023]}, "axis": null},
   "text": {"field": "nadpis"}}},
 {"data": {"name": "kupony_hlavicka"}, "transform": [{"filter": "datum.sloupec === 'titul'"}],
  "mark": {"type": "text", "style": "hlavicka", "fill": "#137b73"},
  "encoding": {"x": {"field": "sloupec", "type": "nominal", "scale": {"type": "band", "range": [194.3, 428.3]}, "axis": null},
   "y": {"field": "sloupec", "type": "nominal", "scale": {"type": "band", "range": [1003, 1023]}, "axis": null},
   "text": {"field": "nadpis"}}},
 {"data": {"name": "kupony_hlavicka"}, "transform": [{"filter": "datum.sloupec === 'datum'"}],
  "mark": {"type": "text", "style": "hlavicka", "fill": "#137b73"},
  "encoding": {"x": {"field": "sloupec", "type": "nominal", "scale": {"type": "band", "range": [428.3, 926]}, "axis": null},
   "y": {"field": "sloupec", "type": "nominal", "scale": {"type": "band", "range": [972.5, 992.5]}, "axis": null},
   "text": {"field": "nadpis"}}},
 {"data": {"name": "kupony_hlavicka"}, "transform": [{"filter": "datum.sloupec === 'posledni'"}],
  "mark": {"type": "text", "style": "hlavicka", "fill": "#137b73", "lineBreak": "\n", "lineHeight": 26},
  "encoding": {"x": {"field": "sloupec", "type": "nominal", "scale": {"type": "band", "range": [428.3, 677.7]}, "axis": null},
   "y": {"field": "sloupec", "type": "nominal", "scale": {"type": "band", "range": [1008.5, 1028.5]}, "axis": null},
   "text": {"field": "nadpis"}}},
 {"data": {"name": "kupony_hlavicka"}, "transform": [{"filter": "datum.sloupec === 'exkupon'"}],
  "mark": {"type": "text", "style": "hlavicka", "fill": "#137b73"},
  "encoding": {"x": {"field": "sloupec", "type": "nominal", "scale": {"type": "band", "range": [677.7, 926]}, "axis": null},
   "y": {"field": "sloupec", "type": "nominal", "scale": {"type": "band", "range": [1021.5, 1041.5]}, "axis": null},
   "text": {"field": "nadpis"}}},
 {"data": {"name": "kupony"},
  "mark": {"type": "text", "style": "bunka", "fill": "#000000", "fontSize": 20},
  "encoding": {"x": {"datum": "isin", "type": "nominal", "scale": {"type": "band", "range": [33.3, 194.3], "paddingInner": 0, "paddingOuter": 0}, "axis": null},
   "y": {"field": "isin", "type": "nominal", "scale": {"type": "band", "range": [1059.8, 1088.8], "paddingInner": 0, "paddingOuter": 0}, "axis": null},
   "text": {"field": "isin", "type": "nominal"}}},
 {"data": {"name": "kupony"},
  "mark": {"type": "text", "style": "bunka", "fill": "#000000", "fontSize": 20, "align": "left", "dx": 10.7},
  "encoding": {"x": {"datum": "titul", "type": "nominal", "bandPosition": 0, "scale": {"type": "band", "range": [194.3, 428.3], "paddingInner": 0, "paddingOuter": 0}, "axis": null},
   "y": {"field": "isin", "type": "nominal", "scale": {"type": "band", "range": [1059.8, 1088.8], "paddingInner": 0, "paddingOuter": 0}, "axis": null},
   "text": {"field": "titul", "type": "nominal"}}},
 {"data": {"name": "kupony"},
  "mark": {"type": "text", "style": "bunka", "fill": "#000000", "fontSize": 20},
  "encoding": {"x": {"datum": "posledni", "type": "nominal", "scale": {"type": "band", "range": [428.3, 677.7], "paddingInner": 0, "paddingOuter": 0}, "axis": null},
   "y": {"field": "isin", "type": "nominal", "scale": {"type": "band", "range": [1059.8, 1088.8], "paddingInner": 0, "paddingOuter": 0}, "axis": null},
   "text": {"field": "posledni", "type": "nominal"}}},
 {"data": {"name": "kupony"},
  "mark": {"type": "text", "style": "bunka", "fill": "#000000", "fontSize": 20},
  "encoding": {"x": {"datum": "exkupon", "type": "nominal", "scale": {"type": "band", "range": [677.7, 926], "paddingInner": 0, "paddingOuter": 0}, "axis": null},
   "y": {"field": "isin", "type": "nominal", "scale": {"type": "band", "range": [1059.8, 1088.8], "paddingInner": 0, "paddingOuter": 0}, "axis": null},
   "text": {"field": "exkupon", "type": "nominal"}}}
]
}
